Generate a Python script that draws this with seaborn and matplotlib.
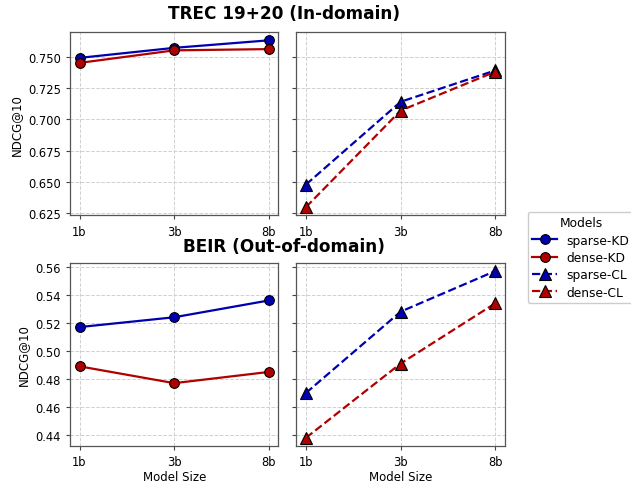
import pandas as pd
import matplotlib
matplotlib.use('Agg')
import matplotlib.pyplot as plt
import seaborn as sns

# Data
sizes = ['1b', '3b', '8b']

trec_sparse_kd = [0.749, 0.757, 0.763]
trec_dense_kd = [0.745, 0.755, 0.756]
trec_sparse_cl = [0.648, 0.714, 0.739]
trec_dense_cl = [0.630, 0.707, 0.738]

beir_sparse_kd = [0.517, 0.524, 0.536]
beir_dense_kd = [0.489, 0.477, 0.485]
beir_sparse_cl = [0.470, 0.528, 0.557]
beir_dense_cl = [0.438, 0.491, 0.534]

row_titles = ['TREC 19+20 (In-domain)', 'BEIR (Out-of-domain)']

BLUE = '#0000b0'
RED = '#b00000'

plt.rcParams['font.family'] = ['DejaVu Sans']

fig, axes = plt.subplots(2, 2, figsize=(6.31, 4.85), dpi=100, sharey='row')
fig.subplots_adjust(left=0.111, right=0.800, top=0.932, bottom=0.078,
                    wspace=0.087, hspace=0.257)

rows = [
    (trec_sparse_kd, trec_dense_kd, trec_sparse_cl, trec_dense_cl),
    (beir_sparse_kd, beir_dense_kd, beir_sparse_cl, beir_dense_cl),
]

for r, (skd, dkd, scl, dcl) in enumerate(rows):
    ax_kd = axes[r, 0]
    ax_cl = axes[r, 1]
    series = [
        (ax_kd, skd, 'sparse-KD', BLUE, 'o', '-', 7),
        (ax_kd, dkd, 'dense-KD', RED, 'o', '-', 7),
        (ax_cl, scl, 'sparse-CL', BLUE, '^', '--', 8),
        (ax_cl, dcl, 'dense-CL', RED, '^', '--', 8),
    ]
    for ax, vals, name, color, marker, ls, ms in series:
        df = pd.DataFrame({'size': sizes, 'ndcg': vals})
        sns.lineplot(data=df, x='size', y='ndcg', ax=ax, color=color,
                     marker=marker, linestyle=ls, linewidth=1.6,
                     markersize=ms, markeredgecolor='black',
                     markeredgewidth=0.8, label=name, legend=False)
    for ax in (ax_kd, ax_cl):
        ax.grid(True, linestyle='--', color='#d0d0d0', linewidth=0.7)
        ax.tick_params(axis='both', which='both', length=3, labelsize=8.3,
                       color='#444444')
        for sp in ax.spines.values():
            sp.set_color('#555555')
            sp.set_linewidth(0.9)
        ax.set_xlabel('')
        ax.set_ylabel('')
    ax_kd.set_ylabel('NDCG@10', fontsize=8.5)

axes[1, 0].set_xlabel('Model Size', fontsize=8.5, labelpad=1.5)
axes[1, 1].set_xlabel('Model Size', fontsize=8.5, labelpad=1.5)

fig.text(0.45, 0.971, row_titles[0], ha='center', va='center',
         fontsize=12.2, fontweight='bold')
fig.text(0.45, 0.491, row_titles[1], ha='center', va='center',
         fontsize=12.2, fontweight='bold')

h1, l1 = axes[0, 0].get_legend_handles_labels()
h2, l2 = axes[0, 1].get_legend_handles_labels()
fig.legend(h1 + h2, l1 + l2, title='Models', loc='center left',
           bbox_to_anchor=(0.836, 0.467), fontsize=8.8, title_fontsize=8.8,
           handlelength=2, labelspacing=0.35, frameon=True, framealpha=1,
           borderaxespad=0)

plt.savefig('out.png', dpi=100)
